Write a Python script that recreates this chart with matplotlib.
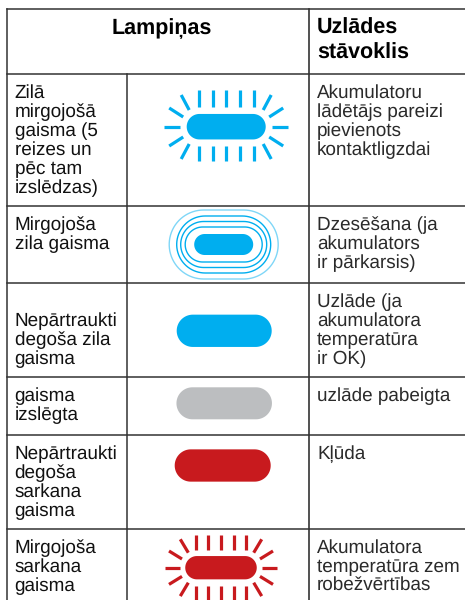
import matplotlib
matplotlib.use("Agg")
import numpy as np
import matplotlib.pyplot as plt

header_left = "Lampiņas"
header_right = "Uzlādes\nstāvoklis"
lamp_names = [
    "Zilā\nmirgojošā\ngaisma (5\nreizes un\npēc tam\nizslēdzas)",
    "Mirgojoša\nzila gaisma",
    "Nepārtraukti\ndegoša zila\ngaisma",
    "gaisma\nizslēgta",
    "Nepārtraukti\ndegoša\nsarkana\ngaisma",
    "Mirgojoša\nsarkana\ngaisma",
]
states = [
    "Akumulatoru\nlādētājs pareizi\npievienots\nkontaktligzdai",
    "Dzesēšana (ja\nakumulators\nir pārkarsis)",
    "Uzlāde (ja\nakumulatora\ntemperatūra\nir OK)",
    "uzlāde pabeigta",
    "Kļūda",
    "Akumulatora\ntemperatūra zem\nrobežvērtības",
]
row_lines = [9.3, 74, 206, 282.5, 376.7, 434.5, 529, 600]
col_lines = [7, 127.3, 309]
# first line of the lamp text is not always at the top of the cell
lamp_pad = [10.5, 10.5, 29.5, 10.5, 10.5, 10.5]

BLUE = "#00aeef"
GREY = "#bcbec0"
RED = "#c81a1e"
LINE = "#333333"

plt.rcParams['font.family'] = ['Liberation Sans', 'DejaVu Sans']
plt.rcParams['text.hinting'] = 'no_hinting'
plt.rcParams['text.hinting_factor'] = 8
plt.rcParams['path.simplify'] = False

fig = plt.figure(figsize=(4.65, 6.0), dpi=100)
ax = fig.add_axes([0, 0, 1, 1])
ax.set_xlim(0, 465)
ax.set_ylim(600, 0)
ax.axis("off")


def pill(cx, cy, w, h, color, fill=True, lw=1.0, alpha=1.0):
    r = h / 2
    t = np.linspace(-np.pi / 2, np.pi / 2, 40)
    x = np.concatenate([cx + w / 2 - r + r * np.cos(t), cx - w / 2 + r - r * np.cos(t)])
    y = np.concatenate([cy + r * np.sin(t), cy - r * np.sin(t)])
    if fill:
        ax.fill(x, y, color=color, lw=0, zorder=3)
    else:
        ax.fill(x, y, fc="none", ec=color, lw=lw, alpha=alpha, zorder=3)


def rays(cx, cy, xs, top, bottom, side, diag, color, lw=2.3):
    for x in xs:
        ax.plot([cx + x, cx + x], [cy - top[0], cy - top[1]], color=color, lw=lw, solid_capstyle="butt")
        ax.plot([cx + x, cx + x], [cy + bottom[0], cy + bottom[1]], color=color, lw=lw, solid_capstyle="butt")
    for s in (-1, 1):
        ax.plot([cx + s * side[0], cx + s * side[1]], [cy, cy], color=color, lw=lw, solid_capstyle="butt")
        for v in (-1, 1):
            for d in diag:
                ax.plot([cx + s * d[0], cx + s * d[2]], [cy + v * d[1], cy + v * d[3]],
                        color=color, lw=lw, solid_capstyle="butt")


# grid
ax.plot([col_lines[0], col_lines[0]], [row_lines[0], row_lines[-1]], color=LINE, lw=1.1)
ax.plot([col_lines[2], col_lines[2]], [row_lines[0], row_lines[-1]], color=LINE, lw=1.2)
ax.plot([col_lines[1], col_lines[1]], [row_lines[1], row_lines[-1]], color=LINE, lw=1.1)
for y in row_lines[:-1]:
    ax.plot([col_lines[0], 465], [y, y], color=LINE, lw=1.1)

# headers
ax.text(162, 28.5, header_left, fontsize=15.5, fontweight="bold", ha="center", va="center", color="black")
ax.text(317, 40.5, header_right, fontsize=15.5, fontweight="bold", ha="left", va="center",
        color="black", linespacing=1.29)

# cell text
for i in range(len(lamp_names)):
    ax.text(14.5, row_lines[i + 1] + lamp_pad[i], lamp_names[i], fontsize=13.6, ha="left", va="top",
            color="#111111", linespacing=1.09)
    ax.text(317, row_lines[i + 1] + 10.5, states[i], fontsize=13.6, ha="left", va="top",
            color="#2a2a2a", linespacing=1.09)

# lamps
pill(226.2, 126.7, 79, 25.5, BLUE)
rays(226.2, 127, [-27.5, -13.7, 0, 13.7, 27.5], (20, 37), (19, 34), (46, 62),
     [(37, 17, 45, 32), (43, 10, 57, 19)], BLUE)

pill(223.7, 244.5, 59, 21, BLUE)
ring_w = [77, 86, 94, 109]
ring_h = [35, 46, 57, 69]
ring_alpha = [1, 1, 1, 0.5]
for w, h, a in zip(ring_w, ring_h, ring_alpha):
    pill(223.7, 244.5, w, h, BLUE, fill=False, lw=1.0, alpha=a)

pill(224.2, 330.8, 95, 32.3, BLUE)
pill(224.2, 403.3, 95.5, 32, GREY)
pill(222.7, 465.5, 96, 32.3, RED)

pill(221, 567.7, 71.5, 23.3, RED)
rays(221, 567.7, [-25, -12.6, 0, 12.6, 25], (17.7, 33), (18, 33), (41, 56),
     [(32.7, 15, 40.7, 28.4), (39, 8.7, 52, 16.7)], RED)

fig.savefig("out.png", dpi=100)
